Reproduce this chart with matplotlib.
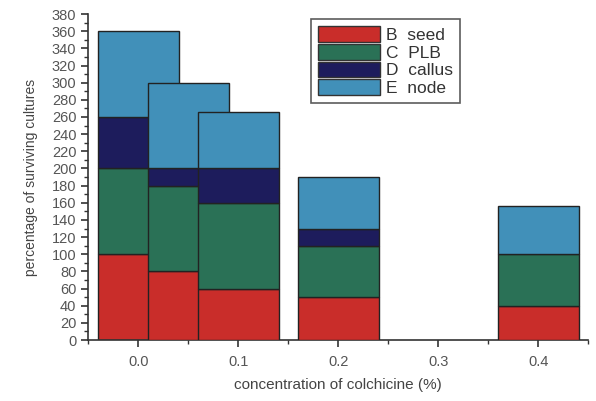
import matplotlib.pyplot as plt
from matplotlib.ticker import MultipleLocator
from matplotlib.patches import Patch

plt.rcParams['font.family'] = ['Liberation Sans', 'DejaVu Sans']

# colchicine concentration (%) for each stacked bar
conc = [0.0, 0.05, 0.1, 0.2, 0.4]
seed = [100, 80, 60, 50, 40]
plb = [100, 100, 100, 60, 60]
callus = [60, 20, 40, 20, 0]
node = [100, 100, 66, 60, 56]

labels = ['B  seed', 'C  PLB', 'D  callus', 'E  node']
colors = ['#c92d2a', '#2a7156', '#1d1c5c', '#4190b9']
series = [seed, plb, callus, node]

fig = plt.figure(figsize=(5.96, 4.01), dpi=100)
ax = fig.add_axes([0.148, 0.152, 0.839, 0.813])

# draw bar by bar so later bars sit on top of earlier overlapping ones
for i, x in enumerate(conc):
    bottom = 0
    for vals, c in zip(series, colors):
        if vals[i] > 0:
            ax.bar(x, vals[i], width=0.081, bottom=bottom, color=c,
                   edgecolor='#222222', linewidth=1.0, zorder=2 + i)
        bottom += vals[i]

ax.set_xlim(-0.05, 0.45)
ax.set_ylim(0, 380)
ax.xaxis.set_major_locator(MultipleLocator(0.1))
ax.xaxis.set_minor_locator(MultipleLocator(0.05))
ax.yaxis.set_major_locator(MultipleLocator(20))
ax.yaxis.set_minor_locator(MultipleLocator(10))
ax.set_xticks([0.0, 0.1, 0.2, 0.3, 0.4])
ax.set_xticklabels(['0.0', '0.1', '0.2', '0.3', '0.4'])

for side in ['top', 'right']:
    ax.spines[side].set_visible(False)
for side in ['left', 'bottom']:
    ax.spines[side].set_color('#333333')
    ax.spines[side].set_linewidth(1.2)

ax.tick_params(which='major', direction='out', length=5, width=1.2,
               colors='#333333', labelcolor='#555555', labelsize=10.5)
ax.tick_params(axis='x', which='major', pad=6)
ax.tick_params(which='minor', direction='out', length=3, width=1,
               colors='#333333')

ax.set_xlabel('concentration of colchicine (%)', fontsize=11, color='#444444',
              labelpad=6)
ax.set_ylabel('percentage of surviving cultures', fontsize=10, color='#444444',
              labelpad=10)

handles = [Patch(facecolor=c, edgecolor='#333333') for c in colors]
leg = ax.legend(handles, labels, loc='upper left', bbox_to_anchor=(0.428, 1.01),
                fontsize=12.5, frameon=True, fancybox=False, handlelength=3.6,
                handleheight=1.0, handletextpad=0.3, labelspacing=0.05,
                borderpad=0.4, labelcolor='#333333')
leg.get_frame().set_edgecolor('#333333')
leg.get_frame().set_linewidth(1.2)

fig.savefig('out.png', dpi=100)
